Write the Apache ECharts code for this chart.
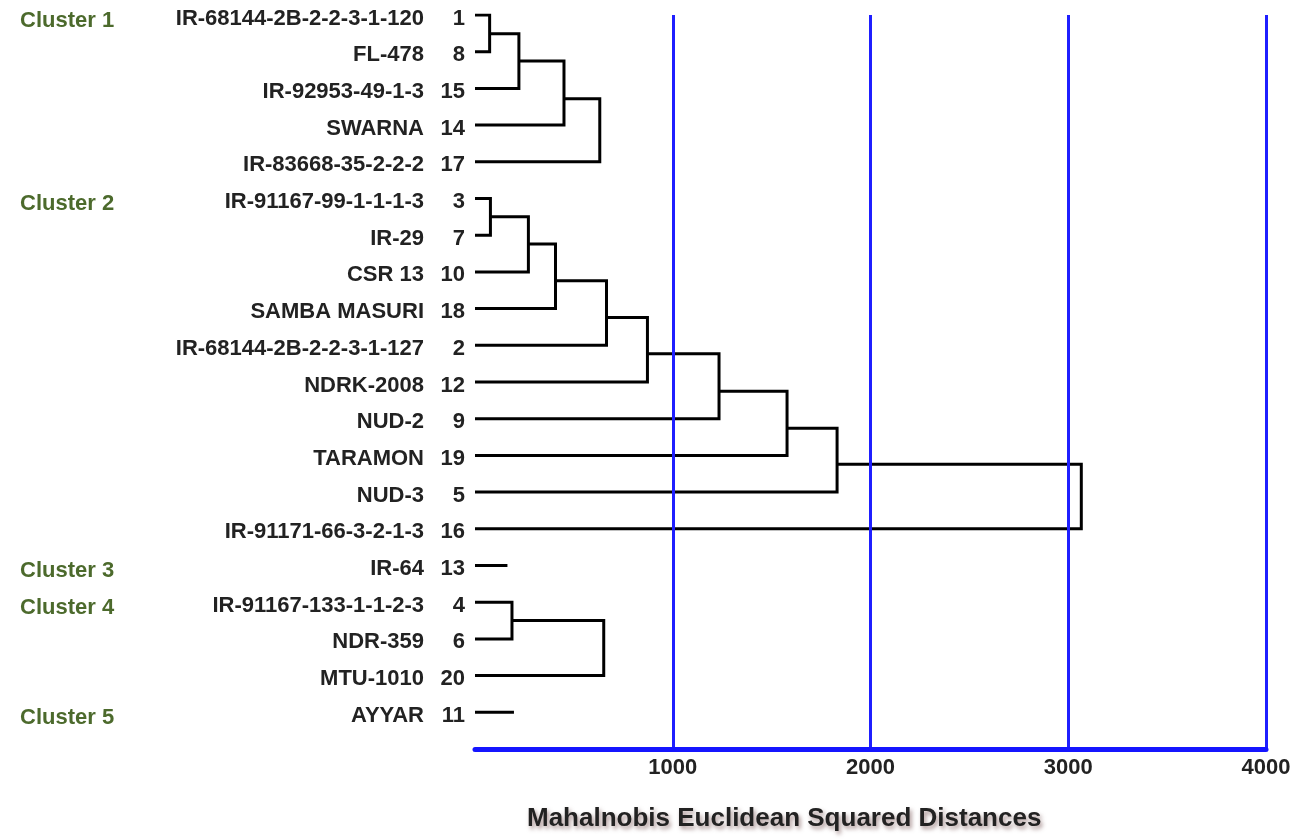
<!DOCTYPE html>
<html>
<head>
<meta charset="utf-8">
<script src="https://cdn.jsdelivr.net/npm/echarts@6/dist/echarts.min.js"></script>
<style>
html,body{margin:0;padding:0;background:#fff;}
#chart{width:1302px;height:840px;}
</style>
</head>
<body>
<div id="chart"></div>
<script>
// Leaves, top to bottom
const rowNames = ['IR-68144-2B-2-2-3-1-120','FL-478','IR-92953-49-1-3','SWARNA','IR-83668-35-2-2-2',
  'IR-91167-99-1-1-1-3','IR-29','CSR 13','SAMBA MASURI','IR-68144-2B-2-2-3-1-127','NDRK-2008','NUD-2',
  'TARAMON','NUD-3','IR-91171-66-3-2-1-3','IR-64','IR-91167-133-1-1-2-3','NDR-359','MTU-1010','AYYAR'];
const rowIds = [1,8,15,14,17,3,7,10,18,2,12,9,19,5,16,13,4,6,20,11];
const clusterNames = ['Cluster 1','Cluster 2','Cluster 3','Cluster 4','Cluster 5'];
const clusterRows = [0,5,15,16,19];

// Merges (children: leaf row index or merge name)
const mergeNames  = ['A','B','C','D','E','F','G','H','I','J','K','L','M','N','O'];
const mergeTop    = [0,'A','B','C',5,'E','F','G','H','I','J','K','L',16,'N'];
const mergeBottom = [1,2,3,4,6,7,8,9,10,11,12,13,14,17,18];
const mergeHeight = [74,222,450,631,78,270,407,665,872,1234,1578,1831,3066,187,651];
const mergeRow    = [0.51,1.25,2.28,null,5.5,6.24,7.24,8.24,9.23,10.25,11.26,12.24,null,16.5,null];

// Single-leaf clusters
const singleRows = [15,19];
const singleLength = [164,197];

// Axis ticks
const xTicks = [1000,2000,3000,4000];
const xTitle = 'Mahalnobis Euclidean Squared Distances';

const FONT = '"Liberation Sans Narrow","Arial Narrow","Liberation Sans",sans-serif';

function nodeInfo(c){
  if (typeof c === 'number') return {h:0,row:c};
  const i = mergeNames.indexOf(c);
  return {h:mergeHeight[i], row:mergeRow[i]};
}

const series = [];
mergeNames.forEach((n,i)=>{
  const t = nodeInfo(mergeTop[i]), b = nodeInfo(mergeBottom[i]), h = mergeHeight[i];
  series.push({
    type:'line', data:[[t.h,t.row],[h,t.row],[h,b.row],[b.h,b.row]],
    symbol:'none', silent:true, animation:false,
    lineStyle:{color:'#000',width:3,cap:'butt',join:'miter'}
  });
});
singleRows.forEach((r,i)=>{
  series.push({
    type:'line', data:[[0,r],[singleLength[i],r]],
    symbol:'none', silent:true, animation:false,
    lineStyle:{color:'#000',width:3,cap:'butt'}
  });
});

function yAxisBase(extra){
  return Object.assign({
    type:'value', min:0, max:20, interval:1, inverse:true, position:'left',
    axisLine:{show:false}, axisTick:{show:false}, splitLine:{show:false}
  }, extra);
}
function wrap(s){ return s ? '{t|' + s + '}' : ''; }
const labelStyle = {fontFamily:FONT,fontWeight:'bold',fontSize:22,color:'#222'};

const option = {
  backgroundColor:'#fff',
  animation:false,
  title:{
    text:xTitle, left:522, top:801,
    textStyle:{fontFamily:FONT,fontWeight:'bold',fontSize:26,color:'#222',
      textShadowColor:'rgba(100,60,60,0.55)',textShadowBlur:4,textShadowOffsetX:2,textShadowOffsetY:3}
  },
  grid:{left:475, right:36, top:15, height:734, containLabel:false},
  xAxis:{
    type:'value', min:0, max:4000, interval:1000, z:5, position:'bottom',
    axisLine:{show:true,onZero:false,lineStyle:{color:'#1515ff',width:5}},
    axisTick:{show:false},
    splitLine:{show:true,showMinLine:false,lineStyle:{color:'#1f1fff',width:3}},
    axisLabel:{showMinLabel:false,margin:8,fontFamily:FONT,fontWeight:'bold',fontSize:22,color:'#222',
      formatter:v=> xTicks.indexOf(v)>=0 ? String(v) : ''}
  },
  yAxis:[
    yAxisBase({axisLabel:{margin:10,
      rich:{t:Object.assign({padding:[7,0,0,0]},labelStyle)},
      formatter:v=> (v>=0&&v<rowIds.length)? wrap(String(rowIds[v])) : ''}}),
    yAxisBase({offset:41, axisLabel:{margin:10,
      rich:{t:Object.assign({padding:[7,0,0,0]},labelStyle)},
      formatter:v=> (v>=0&&v<rowNames.length)? wrap(rowNames[v]) : ''}}),
    yAxisBase({offset:455, axisLabel:{margin:0,align:'left',
      rich:{t:Object.assign({padding:[11,0,0,0]},labelStyle,{color:'#4c6a2c'})},
      formatter:v=>{const k=clusterRows.indexOf(v);return k>=0?wrap(clusterNames[k]):'';}}})
  ],
  series:series
};

const chart = echarts.init(document.getElementById('chart'),null,{renderer:'canvas'});
chart.setOption(option);
</script>
</body>
</html>
